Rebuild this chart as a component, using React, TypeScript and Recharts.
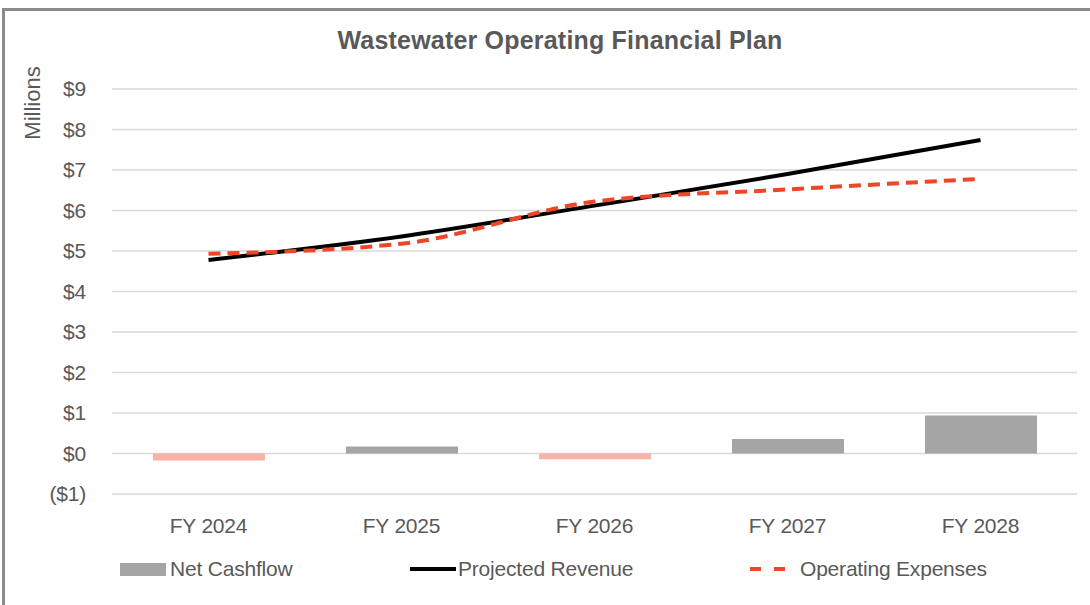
import { ComposedChart, Bar, Line, XAxis, YAxis, CartesianGrid, Cell } from 'recharts';

const years = ['FY 2024', 'FY 2025', 'FY 2026', 'FY 2027', 'FY 2028'];
const netCashflow = [-0.17, 0.17, -0.14, 0.36, 0.94];
const projectedRevenue = [4.78, 5.36, 6.12, 6.9, 7.74];
const operatingExpenses = [4.93, 5.18, 6.22, 6.52, 6.78];
const yTicks = [-1, 0, 1, 2, 3, 4, 5, 6, 7, 8, 9];

const FONT = '"Liberation Sans", Arial, sans-serif';
const TEXT = '#595959';

const data = years.map((y, i) => ({
  year: y,
  net: netCashflow[i],
  revenue: projectedRevenue[i],
  expenses: operatingExpenses[i],
}));

function money(v: number): string {
  return v < 0 ? `($${Math.abs(v)})` : `$${v}`;
}

function LegendBox() {
  const item = { display: 'flex', alignItems: 'center', position: 'absolute' as const, top: 0 };
  const label = { fontFamily: FONT, fontSize: 21, color: TEXT, letterSpacing: -0.2 };
  return (
    <div style={{ position: 'absolute', left: 0, top: 557, width: 1090, height: 30 }}>
      <div style={{ ...item, left: 120 }}>
        <div style={{ width: 46, height: 13, background: '#a5a5a5', marginRight: 4 }} />
        <span style={label}>Net Cashflow</span>
      </div>
      <div style={{ ...item, left: 408 }}>
        <svg width={50} height={14}>
          <line x1={2} y1={7} x2={48} y2={7} stroke="#000" strokeWidth={4} />
        </svg>
        <span style={label}>Projected Revenue</span>
      </div>
      <div style={{ ...item, left: 750 }}>
        <svg width={50} height={14}>
          <line x1={0} y1={7} x2={46} y2={7} stroke="#ee4626" strokeWidth={4} strokeDasharray="11 13" />
        </svg>
        <span style={label}>Operating Expenses</span>
      </div>
    </div>
  );
}

export default function App() {
  return (
    <div style={{ position: 'absolute', left: 0, top: 0, width: 1090, height: 605, background: '#fff', overflow: 'hidden' }}>
      <div
        style={{
          position: 'absolute',
          left: 2,
          top: 8,
          width: 1200,
          height: 700,
          border: '3px solid #8a8a8a',
        }}
      />
      <div
        style={{
          position: 'absolute',
          left: 0,
          width: 1120,
          top: 26,
          textAlign: 'center',
          fontFamily: FONT,
          fontWeight: 'bold',
          fontSize: 25,
          color: TEXT,
          letterSpacing: 0.2,
        }}
      >
        Wastewater Operating Financial Plan
      </div>
      <div
        style={{
          position: 'absolute',
          left: 33,
          top: 103,
          transform: 'translate(-50%, -50%) rotate(-90deg)',
          fontFamily: FONT,
          fontSize: 22,
          color: TEXT,
          whiteSpace: 'nowrap',
        }}
      >
        Millions
      </div>
      <div style={{ position: 'absolute', left: 0, top: 0 }}>
        <ComposedChart
          width={1090}
          height={605}
          data={data}
          margin={{ top: 89, right: 13, left: 0, bottom: 0 }}
          barCategoryGap="21%"
        >
          <CartesianGrid vertical={false} stroke="#d9d9d9" strokeWidth={1.5} />
          <XAxis
            dataKey="year"
            height={111}
            axisLine={false}
            tickLine={false}
            tick={{ fill: TEXT, fontSize: 21, fontFamily: FONT, letterSpacing: -0.2 }}
            dy={16}
          />
          <YAxis
            width={112}
            domain={[-1, 9]}
            ticks={yTicks}
            interval={0}
            axisLine={false}
            tickLine={false}
            tickFormatter={money}
            tick={{ fill: TEXT, fontSize: 21, fontFamily: FONT, letterSpacing: -0.2 }}
            dx={-18}
          />
          <Bar dataKey="net" name="Net Cashflow" barSize={112} isAnimationActive={false}>
            {data.map((d, i) => (
              <Cell key={i} fill={d.net < 0 ? '#f8b2a6' : '#a5a5a5'} />
            ))}
          </Bar>
          <Line
            type="monotone"
            dataKey="revenue"
            name="Projected Revenue"
            stroke="#000"
            strokeWidth={4}
            dot={false}
            isAnimationActive={false}
          />
          <Line
            type="monotone"
            dataKey="expenses"
            name="Operating Expenses"
            stroke="#ee4626"
            strokeWidth={4}
            strokeDasharray="12 7"
            dot={false}
            isAnimationActive={false}
          />
        </ComposedChart>
      </div>
      <LegendBox />
    </div>
  );
}
